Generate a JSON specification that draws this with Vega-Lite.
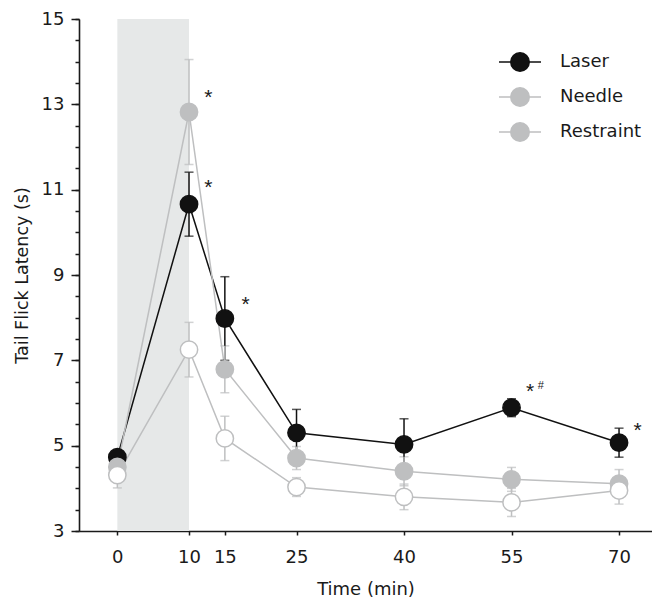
{
  "$schema": "https://vega.github.io/schema/vega-lite/v6.json",
  "width": 573,
  "height": 512,
  "autosize": {"type": "none"},
  "padding": {"left": 79, "top": 19, "right": 0, "bottom": 70},
  "config": {
    "view": {"stroke": null},
    "font": "DejaVu Sans"
  },
  "datasets": {
    "series": [
      {"group": "Laser", "time": 0, "mean": 4.73, "sem": 0.15},
      {"group": "Laser", "time": 10, "mean": 10.66, "sem": 0.75},
      {"group": "Laser", "time": 15, "mean": 7.98, "sem": 0.98},
      {"group": "Laser", "time": 25, "mean": 5.3, "sem": 0.55},
      {"group": "Laser", "time": 40, "mean": 5.03, "sem": 0.6},
      {"group": "Laser", "time": 55, "mean": 5.89, "sem": 0.21},
      {"group": "Laser", "time": 70, "mean": 5.07, "sem": 0.34},
      {"group": "Needle", "time": 0, "mean": 4.5, "sem": 0.2},
      {"group": "Needle", "time": 10, "mean": 12.82, "sem": 1.23},
      {"group": "Needle", "time": 15, "mean": 6.79, "sem": 0.55},
      {"group": "Needle", "time": 25, "mean": 4.71, "sem": 0.27},
      {"group": "Needle", "time": 40, "mean": 4.4, "sem": 0.34},
      {"group": "Needle", "time": 55, "mean": 4.21, "sem": 0.28},
      {"group": "Needle", "time": 70, "mean": 4.11, "sem": 0.33},
      {"group": "Restraint", "time": 0, "mean": 4.31, "sem": 0.3},
      {"group": "Restraint", "time": 10, "mean": 7.25, "sem": 0.64},
      {"group": "Restraint", "time": 15, "mean": 5.17, "sem": 0.52},
      {"group": "Restraint", "time": 25, "mean": 4.03, "sem": 0.22},
      {"group": "Restraint", "time": 40, "mean": 3.8, "sem": 0.3},
      {"group": "Restraint", "time": 55, "mean": 3.67, "sem": 0.33},
      {"group": "Restraint", "time": 70, "mean": 3.95, "sem": 0.32}
    ],
    "notes": [
      {"time": 12.7, "value": 13.15, "kind": "star", "label": "*"},
      {"time": 12.7, "value": 11.04, "kind": "star", "label": "*"},
      {"time": 17.9, "value": 8.3, "kind": "star", "label": "*"},
      {"time": 57.6, "value": 6.25, "kind": "star", "label": "*"},
      {"time": 72.6, "value": 5.35, "kind": "star", "label": "*"},
      {"time": 59.1, "value": 6.4, "kind": "hash", "label": "#"}
    ]
  },
  "layer": [
    {
      "data": {"values": [{"start": 0, "end": 10}]},
      "mark": {"type": "rect", "color": "#e6e8e8"},
      "encoding": {
        "x": {"field": "start", "type": "quantitative", "scale": {"domain": [-5.35, 74.6], "nice": false, "zero": false},
              "axis": {"values": [0, 10, 15, 25, 40, 55, 70], "grid": false, "tickSize": 4, "tickWidth": 1.5, "tickColor": "#1a1a1a", "domainColor": "#1a1a1a", "domainWidth": 1.6,
                       "labelFontSize": 18, "labelColor": "#1a1a1a", "labelPadding": 13, "labelFont": "DejaVu Sans",
                       "title": "Time (min)", "titleFontSize": 18, "titleFontWeight": "normal", "titleColor": "#1a1a1a", "titleFont": "DejaVu Sans", "titlePadding": 14}},
        "x2": {"field": "end"}
      }
    },
    {
      "data": {"name": "series"},
      "mark": {"type": "line", "strokeWidth": 1.5},
      "encoding": {
        "x": {"field": "time", "type": "quantitative"},
        "y": {"field": "mean", "type": "quantitative", "scale": {"domain": [3, 15], "nice": false, "zero": false},
              "axis": {"orient": "left", "values": [3, 5, 7, 9, 11, 13, 15], "grid": false, "tickSize": 8, "tickWidth": 1.5, "tickColor": "#1a1a1a", "domainColor": "#1a1a1a", "domainWidth": 1.6,
                       "labelFontSize": 18, "labelColor": "#1a1a1a", "labelPadding": 7, "labelFont": "DejaVu Sans",
                       "title": "Tail Flick Latency (s)", "titleFontSize": 17.5, "titleFontWeight": "normal", "titleColor": "#1a1a1a", "titleFont": "DejaVu Sans", "titlePadding": 10}},
        "stroke": {"field": "group", "type": "nominal", "title": null, "scale": {"domain": ["Laser", "Needle", "Restraint"], "range": ["#111111", "#bebfc0", "#bebfc0"]},
          "legend": {"orient": "none", "legendX": 419, "legendY": 21, "padding": 0, "title": null, "symbolType": "M-1,0H-0.44M0.44,0H1M-0.44,0A0.44,0.44 0 1,0 0.44,0A0.44,0.44 0 1,0 -0.44,0Z", "symbolSize": 1764, "symbolStrokeWidth": 1.5, "labelFontSize": 18, "labelFont": "DejaVu Sans", "labelColor": "#1a1a1a", "labelOffset": 18, "rowPadding": -8.5}}
      }
    },
    {
      "data": {"name": "series"},
      "mark": {"type": "errorbar", "ticks": {"size": 9}, "thickness": 1.5},
      "encoding": {
        "x": {"field": "time", "type": "quantitative"},
        "y": {"field": "mean", "type": "quantitative", "axis": {"orient": "left", "values": [3,3.5,4,4.5,5,5.5,6,6.5,7,7.5,8,8.5,9,9.5,10,10.5,11,11.5,12,12.5,13,13.5,14,14.5,15], "labels": false, "grid": false, "tickSize": 4, "tickWidth": 1.5, "tickColor": "#1a1a1a", "title": null, "domain": false}},
        "yError": {"field": "sem"},
        "color": {"field": "group", "type": "nominal", "scale": {"domain": ["Laser", "Needle", "Restraint"], "range": ["#111111", "#bebfc0", "#bebfc0"]}, "legend": null}
      }
    },
    {
      "data": {"name": "series"},
      "mark": {"type": "point", "shape": "circle", "size": 300, "strokeWidth": 1.5, "opacity": 1, "filled": true},
      "encoding": {
        "x": {"field": "time", "type": "quantitative"},
        "y": {"field": "mean", "type": "quantitative", "axis": null},
        "stroke": {"field": "group", "type": "nominal", "title": null,
          "legend": {"orient": "none", "legendX": 419, "legendY": 21, "padding": 0, "title": null, "symbolType": "M-1,0H-0.44M0.44,0H1M-0.44,0A0.44,0.44 0 1,0 0.44,0A0.44,0.44 0 1,0 -0.44,0Z", "symbolSize": 1764, "symbolStrokeWidth": 1.5, "labelFontSize": 18, "labelFont": "DejaVu Sans", "labelColor": "#1a1a1a", "labelOffset": 18, "rowPadding": -8.5}},
        "fill": {"field": "group", "type": "nominal", "title": null, "scale": {"domain": ["Laser", "Needle", "Restraint"], "range": ["#111111", "#bebfc0", "#ffffff"]},
          "legend": {"orient": "none", "legendX": 419, "legendY": 21, "padding": 0, "title": null, "symbolType": "M-1,0H-0.44M0.44,0H1M-0.44,0A0.44,0.44 0 1,0 0.44,0A0.44,0.44 0 1,0 -0.44,0Z", "symbolSize": 1764, "symbolStrokeWidth": 1.5, "labelFontSize": 18, "labelFont": "DejaVu Sans", "labelColor": "#1a1a1a", "labelOffset": 18, "rowPadding": -8.5}}
      }
    },
    {
      "data": {"name": "notes"},
      "transform": [{"filter": "datum.kind === 'star'"}],
      "mark": {"type": "text", "fontSize": 21, "font": "Liberation Sans", "baseline": "middle", "align": "center", "color": "#1a1a1a"},
      "encoding": {
        "x": {"field": "time", "type": "quantitative"},
        "y": {"field": "value", "type": "quantitative", "axis": null},
        "text": {"field": "label"}
      }
    },
    {
      "data": {"name": "notes"},
      "transform": [{"filter": "datum.kind === 'hash'"}],
      "mark": {"type": "text", "fontSize": 11, "font": "Liberation Sans", "baseline": "middle", "align": "center", "color": "#1a1a1a"},
      "encoding": {
        "x": {"field": "time", "type": "quantitative"},
        "y": {"field": "value", "type": "quantitative", "axis": null},
        "text": {"field": "label"}
      }
    }
  ],
  "resolve": {"axis": {"y": "independent"}}
}
